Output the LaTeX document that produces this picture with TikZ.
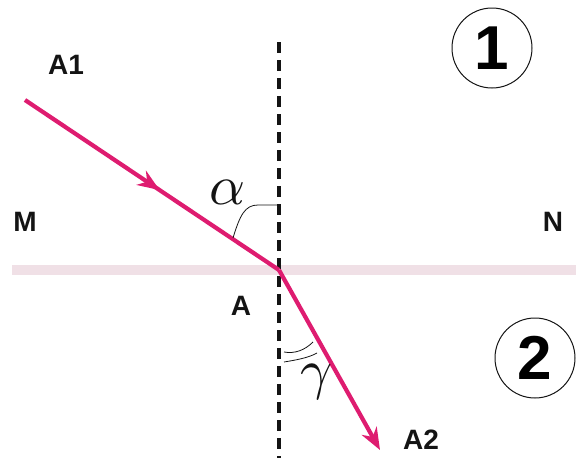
\documentclass[tikz,border=0pt]{standalone}
\usepackage{fontspec}
\setsansfont{Liberation Sans}
\usetikzlibrary{
    arrows.meta,
    decorations.markings
}
\definecolor{ink}{RGB}{20,20,20}
\definecolor{beam}{RGB}{222,28,112}
\definecolor{boundary}{RGB}{240,224,230}
\tikzset{
    line cap=butt,
    ray/.style={
        draw=beam,
        line width=4.2pt
    },
    raytip/.style={
        -{Stealth[length=22pt,width=17pt,inset=7pt]}
    },
    normalline/.style={
        draw=ink,
        line width=3.8pt,
        dash pattern=on 11pt off 7pt
    },
    interface/.style={
        draw=boundary,
        line width=10pt
    },
    anglemark/.style={
        draw=ink,
        line width=0.8pt
    },
    ptlabel/.style={
        font=\sffamily\bfseries\fontsize{28}{30}\selectfont,
        text=ink,
        inner sep=0pt
    },
    anglelabel/.style={
        text=ink,
        inner sep=0pt,
        scale=5.6
    },
    medium/.style={
        circle,
        draw=ink,
        line width=1pt,
        minimum size=80pt,
        inner sep=0pt,
        font=\sffamily\bfseries\fontsize{62}{66}\selectfont
    }
}

\begin{document}
\begin{tikzpicture}[x=1pt, y=-1pt]
\useasboundingbox (0,0) rectangle (576,458);

% --- Boundary and normal ---
\coordinate (A) at (279,270);
\coordinate (Mend) at (12,270);
\coordinate (Nend) at (576,270);
\coordinate (ntop) at (279,42);
\coordinate (nbot) at (279,458);

\draw[interface] (Mend) -- (Nend);
\draw[normalline] (ntop) -- (nbot);

% --- Rays ---
\coordinate (src) at (25,100);
\coordinate (dst) at (380,450);

\draw[ray, postaction={decorate}, decoration={markings,
    mark=at position 0.53 with {\arrow{Stealth[length=22pt,width=17pt,inset=7pt]}}}]
    (src) -- (A);
\draw[ray, raytip] (A) -- (dst);

% --- Angle marks ---
\draw[anglemark] (233,238) .. controls (240,215) and (245,205) .. (258,205) -- (279,205);
\draw[anglemark] (284,352) .. controls (295,354) and (305,350) .. (313,342);
\draw[anglemark] (284,362) .. controls (296,360) and (308,358) .. (317,353);

% --- Labels ---
\node[anglelabel] (alpha) at (228,192) {$\alpha$};
\node[anglelabel] (gamma) at (317,382) {$\gamma$};

\node[ptlabel] (lA1) at (66,65) {A1};
\node[ptlabel] (lM) at (25,222) {M};
\node[ptlabel] (lN) at (553,222) {N};
\node[ptlabel] (lA) at (241,306) {A};
\node[ptlabel] (lA2) at (421,440) {A2};

\node[medium] (m1) at (492,48) {1};
\node[medium] (m2) at (535,358) {2};

\end{tikzpicture}
\end{document}
